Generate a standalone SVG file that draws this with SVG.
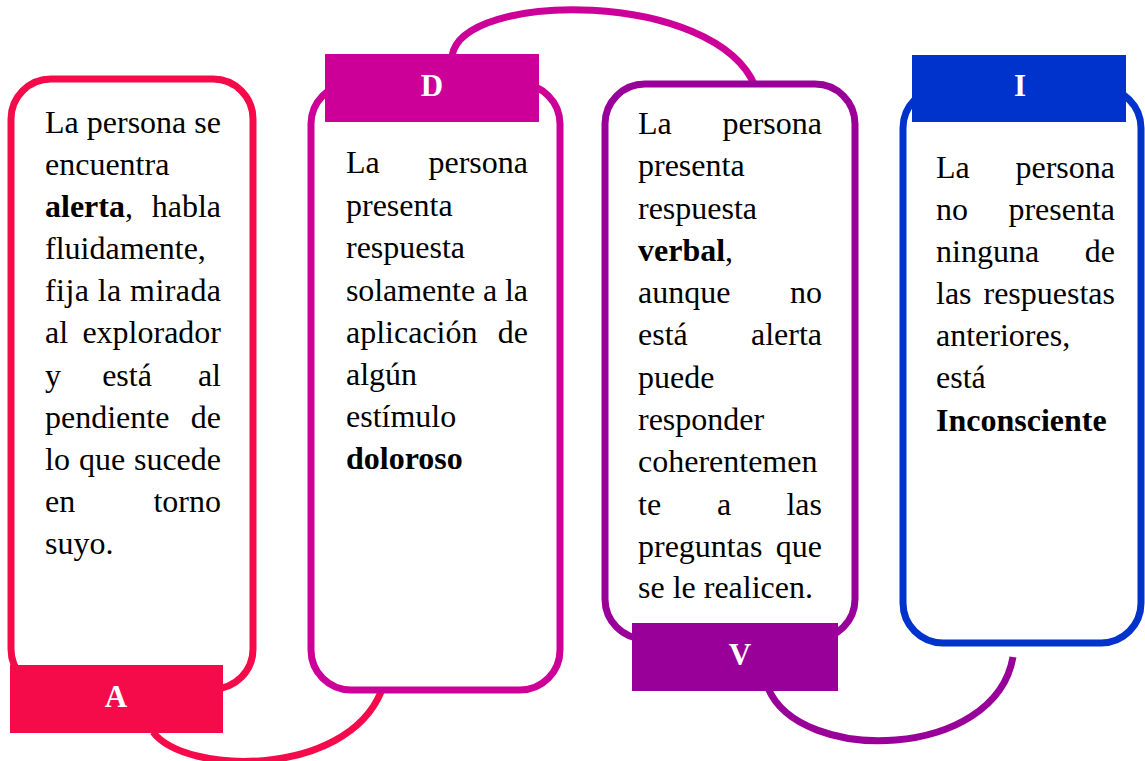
<svg xmlns="http://www.w3.org/2000/svg" width="1145" height="761" viewBox="0 0 1145 761">
<style>
.box{fill:#fff;stroke-width:7}
.t{font-family:'Liberation Serif','Times New Roman',serif;font-size:32px;font-weight:400;fill:#000}
.b{font-weight:700}
.e{text-anchor:end}
.m{text-anchor:middle}
.lbl{font-family:'Liberation Serif','Times New Roman',serif;font-size:31px;font-weight:700;fill:#fff;text-anchor:middle}
.con{fill:none;stroke-width:7}
</style>
<rect width="1145" height="761" fill="#fff"/>
<g id="connectors">
<path class="con" stroke="#F50A4A" d="M153 732 C185 775,345 778,381 692"/>
<path class="con" stroke="#CC0099" d="M452 56 C462 -10,715 -10,755 86"/>
<path class="con" stroke="#990099" d="M768 688 C800 765,995 760,1013 657"/>
</g>
<g id="node-a">
<rect class="box" stroke="#F50A4A" x="11" y="79" width="242" height="610" rx="40"/>
<text class="t" x="45" y="133" textLength="176">La persona se</text>
<text class="t" x="45" y="175">encuentra</text>
<text class="t" x="45" y="217"><tspan class="b">alerta</tspan>,</text>
<text class="t e" x="221" y="217">habla</text>
<text class="t" x="45" y="259">fluidamente,</text>
<text class="t" x="45" y="301" textLength="176">fija la mirada</text>
<text class="t" x="45" y="343">al</text>
<text class="t e" x="221" y="343">explorador</text>
<text class="t" x="45" y="386">y</text>
<text class="t m" x="127" y="386">está</text>
<text class="t e" x="221" y="386">al</text>
<text class="t" x="45" y="428">pendiente</text>
<text class="t e" x="221" y="428">de</text>
<text class="t" x="45" y="470">lo</text>
<text class="t m" x="102" y="470">que</text>
<text class="t e" x="221" y="470">sucede</text>
<text class="t" x="45" y="512">en</text>
<text class="t e" x="221" y="512">torno</text>
<text class="t" x="45" y="554">suyo.</text>
<rect x="10" y="665" width="213" height="68" fill="#F50A4A"/>
<text class="lbl" x="116" y="707">A</text>
</g>
<g id="node-d">
<rect class="box" stroke="#CC0099" x="311" y="84" width="249" height="606" rx="40"/>
<text class="t" x="346" y="173">La</text>
<text class="t e" x="528" y="173">persona</text>
<text class="t" x="346" y="216">presenta</text>
<text class="t" x="346" y="258">respuesta</text>
<text class="t" x="346" y="301" textLength="182">solamente a la</text>
<text class="t" x="346" y="343">aplicación</text>
<text class="t e" x="528" y="343">de</text>
<text class="t" x="346" y="385">algún</text>
<text class="t" x="346" y="427">estímulo</text>
<text class="t b" x="346" y="469">doloroso</text>
<rect x="325" y="54" width="214" height="68" fill="#CC0099"/>
<text class="lbl" x="432" y="96">D</text>
</g>
<g id="node-v">
<rect class="box" stroke="#990099" x="605" y="84" width="250" height="555" rx="40"/>
<text class="t" x="638" y="134">La</text>
<text class="t e" x="822" y="134">persona</text>
<text class="t" x="638" y="176">presenta</text>
<text class="t" x="638" y="219">respuesta</text>
<text class="t" x="638" y="261"><tspan class="b">verbal</tspan>,</text>
<text class="t" x="638" y="303">aunque</text>
<text class="t e" x="822" y="303">no</text>
<text class="t" x="638" y="345">está</text>
<text class="t e" x="822" y="345">alerta</text>
<text class="t" x="638" y="388">puede</text>
<text class="t" x="638" y="430">responder</text>
<text class="t" x="638" y="472">coherentemen</text>
<text class="t" x="638" y="515">te</text>
<text class="t m" x="724" y="515">a</text>
<text class="t e" x="822" y="515">las</text>
<text class="t" x="638" y="557">preguntas</text>
<text class="t e" x="822" y="557">que</text>
<text class="t" x="638" y="598">se le realicen.</text>
<rect x="632" y="623" width="206" height="68" fill="#990099"/>
<text class="lbl" x="740" y="665">V</text>
</g>
<g id="node-i">
<rect class="box" stroke="#0033CC" x="903" y="88" width="238" height="555" rx="40"/>
<text class="t" x="936" y="178">La</text>
<text class="t e" x="1115" y="178">persona</text>
<text class="t" x="936" y="220">no</text>
<text class="t e" x="1115" y="220">presenta</text>
<text class="t" x="936" y="262">ninguna</text>
<text class="t e" x="1115" y="262">de</text>
<text class="t" x="936" y="304">las</text>
<text class="t e" x="1115" y="304">respuestas</text>
<text class="t" x="936" y="346">anteriores,</text>
<text class="t" x="936" y="388">está</text>
<text class="t b" x="936" y="431">Inconsciente</text>
<rect x="912" y="55" width="214" height="67" fill="#0033CC"/>
<text class="lbl" x="1020" y="96">I</text>
</g>
</svg>
